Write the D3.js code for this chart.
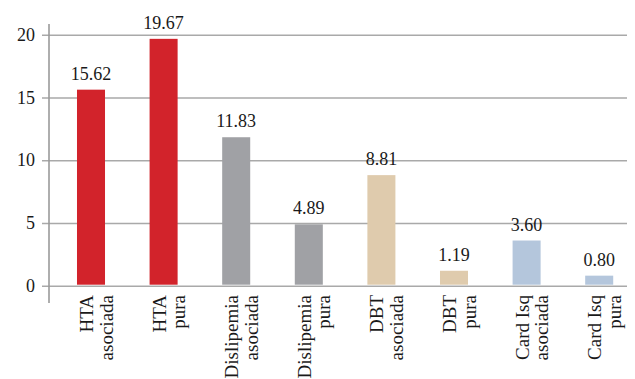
<!DOCTYPE html>
<html>
<head>
<meta charset="utf-8">
<script src="https://cdn.jsdelivr.net/npm/d3@7"></script>
<style>
  html, body { margin: 0; padding: 0; background: #fff; }
  svg { display: block; }
  text { font-family: "Liberation Serif", "Times New Roman", serif; fill: #1a1a1a; }
</style>
</head>
<body>
<svg id="chart" width="635" height="379"></svg>
<script>
// Categories (two-line labels) and values
const categories = [
  ["HTA", "asociada"],
  ["HTA", "pura"],
  ["Dislipemia", "asociada"],
  ["Dislipemia", "pura"],
  ["DBT", "asociada"],
  ["DBT", "pura"],
  ["Card Isq", "asociada"],
  ["Card Isq", "pura"]
];
const values = [15.62, 19.67, 11.83, 4.89, 8.81, 1.19, 3.60, 0.80];
const valueLabels = ["15.62", "19.67", "11.83", "4.89", "8.81", "1.19", "3.60", "0.80"];
const groupColors = ["#d2232b", "#d2232b", "#a0a1a5", "#a0a1a5", "#dfcbad", "#dfcbad", "#b4c6dc", "#b4c6dc"];
const yTicks = [0, 5, 10, 15, 20];

const svg = d3.select("#chart");
const axisX = 49;

const x = d3.scaleBand()
  .domain(d3.range(categories.length))
  .range([54.7, 635.5])
  .paddingInner(0.614)
  .paddingOuter(0.307);

const y = d3.scaleLinear().domain([0, 20]).range([285.7, 34.7]);

// Horizontal gridlines (with short tick stubs left of the axis)
const yAxis = d3.axisLeft(y)
  .tickValues(yTicks)
  .tickSize(-(627 - axisX))
  .tickPadding(14)
  .tickFormat(d3.format("d"));

const gy = svg.append("g")
  .attr("transform", `translate(${axisX},0)`)
  .call(yAxis);
gy.select(".domain").remove();
gy.selectAll(".tick line")
  .attr("x1", -7)
  .attr("stroke", "#a9a9a9")
  .attr("stroke-width", 1.6);
gy.selectAll(".tick text")
  .attr("font-size", 18)
  .attr("font-family", "Liberation Serif, serif")
  .attr("fill", "#1a1a1a");

// Vertical axis line
svg.append("line")
  .attr("x1", axisX).attr("x2", axisX)
  .attr("y1", 24).attr("y2", 303)
  .attr("stroke", "#9a9a9a")
  .attr("stroke-width", 1.6);

// Bars
svg.append("g").selectAll("rect")
  .data(values)
  .join("rect")
  .attr("x", (d, i) => x(i))
  .attr("width", x.bandwidth())
  .attr("y", d => y(d))
  .attr("height", d => y(0) - y(d) - 1)
  .attr("fill", (d, i) => groupColors[i]);

// Value labels above the bars
svg.append("g").selectAll("text")
  .data(values)
  .join("text")
  .attr("x", (d, i) => x(i) + x.bandwidth() / 2)
  .attr("y", d => y(d) - 10)
  .attr("text-anchor", "middle")
  .attr("font-size", 18)
  .text((d, i) => valueLabels[i]);

// Rotated two-line category labels
const cat = svg.append("g").selectAll("g")
  .data(categories)
  .join("g")
  .attr("transform", (d, i) => `translate(${x(i) + x.bandwidth() / 2},295) rotate(-90)`);
cat.append("text")
  .attr("text-anchor", "end")
  .attr("x", 0)
  .attr("y", 2)
  .attr("font-size", 19)
  .selectAll("tspan")
  .data(d => d)
  .join("tspan")
  .attr("x", 0)
  .attr("dy", (d, j) => j === 0 ? 0 : 19.5)
  .text(d => d);
</script>
</body>
</html>
